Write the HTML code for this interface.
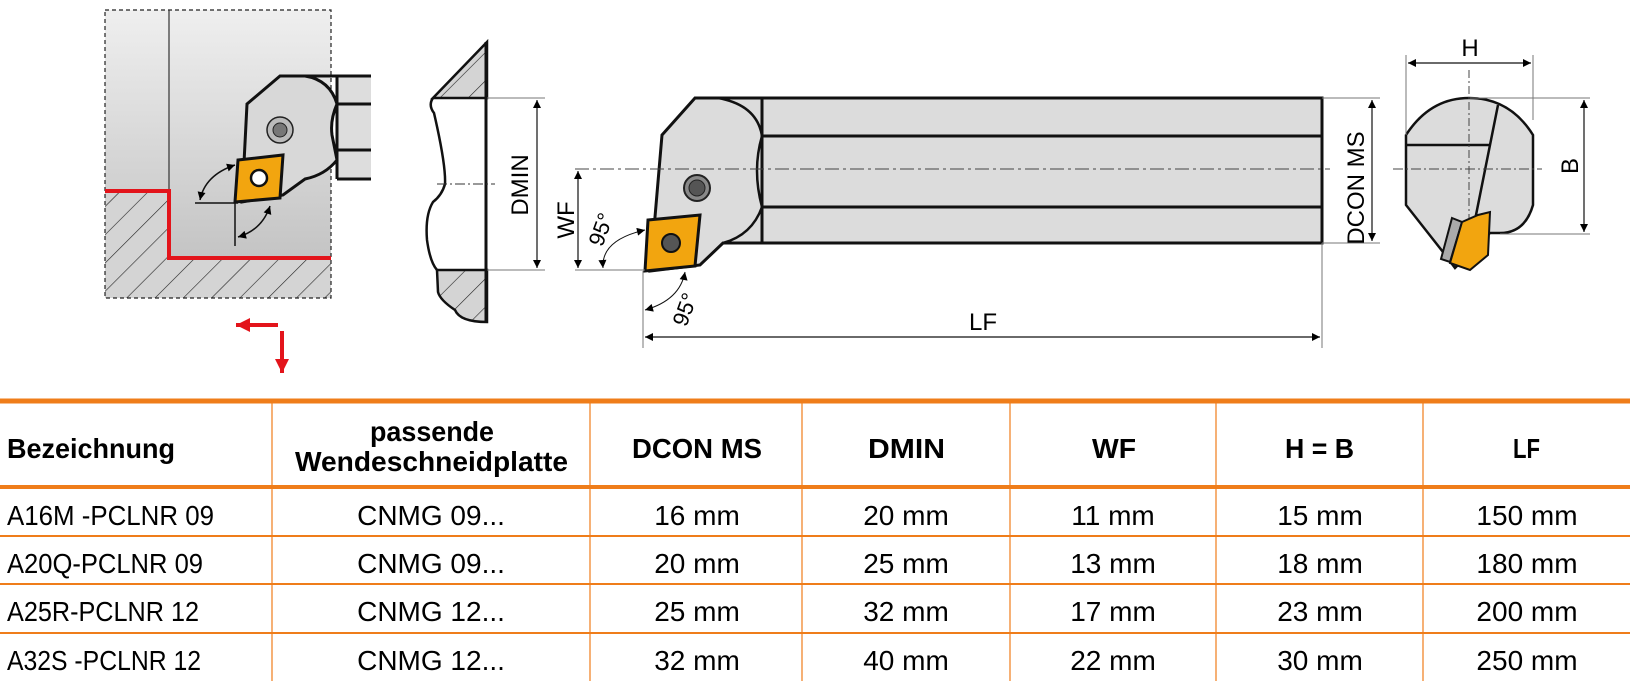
<!DOCTYPE html>
<html><head><meta charset="utf-8"><style>
html,body{margin:0;padding:0;background:#fff;}
svg{display:block;}
.t{font-family:"Liberation Sans Narrow","Liberation Sans",sans-serif;font-size:28px;fill:#000;}
.b{font-weight:bold;}
.d{font-family:"Liberation Sans",sans-serif;font-size:24px;fill:#000;}
</style></head><body>
<svg width="1630" height="697" viewBox="0 0 1630 697" xmlns="http://www.w3.org/2000/svg">
<defs>
<linearGradient id="g" x1="0" y1="0" x2="0" y2="1"><stop offset="0" stop-color="#efefef"/><stop offset="1" stop-color="#bdbdbd"/></linearGradient>
<pattern id="h" width="20" height="20" patternUnits="userSpaceOnUse" patternTransform="rotate(45)"><rect width="20" height="20" fill="#d4d4d4"/><line x1="0" y1="0" x2="0" y2="20" stroke="#222" stroke-width="1.2"/></pattern>
<marker id="a" viewBox="0 0 10 10" refX="10" refY="5" markerWidth="10" markerHeight="8" orient="auto-start-reverse" markerUnits="userSpaceOnUse"><path d="M0,0L10,5L0,10z" fill="#000"/></marker>
<marker id="ar" viewBox="0 0 10 10" refX="10" refY="5" markerWidth="16" markerHeight="14" orient="auto" markerUnits="userSpaceOnUse"><path d="M0,0L10,5L0,10z" fill="#e3141b"/></marker>
</defs>

<!-- left drawing -->
<rect x="105" y="10" width="226" height="288" fill="url(#g)"/>
<path d="M105,191H169V258H331V298H105Z" fill="url(#h)"/>
<rect x="105" y="10" width="226" height="288" fill="none" stroke="#222" stroke-width="1.2" stroke-dasharray="4,3"/>
<line x1="169" y1="10" x2="169" y2="191" stroke="#333" stroke-width="1.2"/>
<path d="M105,191H169V258H331" fill="none" stroke="#e3141b" stroke-width="4"/>
<rect x="337" y="76" width="34" height="103" fill="#ddd"/>
<path d="M242,202L247,104L280,76H305Q330,80 337,104Q330,120 332,135Q335,150 337,160Q325,175 305,179L283,195Z" fill="#d8d8d8" stroke="#111" stroke-width="3"/>
<path d="M280,76H371M337,104H371M337,150H371M337,179H371M337,76V179" stroke="#111" stroke-width="3" fill="none"/>
<circle cx="280" cy="130" r="13" fill="#bbb" stroke="#222" stroke-width="1.5"/><circle cx="280" cy="130" r="7" fill="#777" stroke="#222"/>
<path d="M238,160L283,155L280,198L235,202Z" fill="#f2a50f" stroke="#111" stroke-width="3"/>
<circle cx="259" cy="178" r="8" fill="#fff" stroke="#111" stroke-width="2.5"/>
<path d="M195,203H238M235,202V246" stroke="#111" stroke-width="1.5"/>
<path d="M200,200Q205,175 235,165" fill="none" stroke="#111" stroke-width="1.5" marker-start="url(#a)" marker-end="url(#a)"/>
<path d="M238,237Q262,230 270,206" fill="none" stroke="#111" stroke-width="1.5" marker-start="url(#a)" marker-end="url(#a)"/>
<line x1="278" y1="325" x2="236" y2="325" stroke="#e3141b" stroke-width="4" marker-end="url(#ar)"/>
<line x1="282" y1="331" x2="282" y2="373" stroke="#e3141b" stroke-width="4" marker-end="url(#ar)"/>

<!-- bore section -->
<path d="M433,98L487,42V98Z" fill="url(#h)" stroke="#111" stroke-width="2.5"/>
<path d="M437,270H487V322Q460,322 455,310Q440,300 438,292Z" fill="url(#h)" stroke="#111" stroke-width="2.5"/>
<path d="M433,98Q428,105 434,113Q446,165 445,184Q442,195 433,202Q425,215 427,240Q430,262 437,270" fill="none" stroke="#111" stroke-width="2.5"/>
<line x1="486" y1="42" x2="486" y2="322" stroke="#111" stroke-width="3"/>
<path d="M487,98H545M487,270H545" stroke="#777" stroke-width="1"/>
<line x1="537" y1="100" x2="537" y2="268" stroke="#111" stroke-width="1.2" marker-start="url(#a)" marker-end="url(#a)"/>
<line x1="437" y1="184" x2="495" y2="184" stroke="#333" stroke-width="1" stroke-dasharray="10,3,2,3"/>
<text class="d" transform="translate(528,185) rotate(-90)" text-anchor="middle">DMIN</text>

<!-- main tool -->
<path d="M695,98H1322V243H723L700,265L650,271L655,217L662,135Z" fill="#dcdcdc" stroke="#111" stroke-width="3"/>
<path d="M718,98Q757,105 762,136Q752,170 762,207Q752,235 723,243" fill="none" stroke="#111" stroke-width="2.5"/>
<path d="M762,98V243M762,136H1322M762,207H1322" stroke="#111" stroke-width="3"/>
<line x1="575" y1="169" x2="1330" y2="169" stroke="#444" stroke-width="1" stroke-dasharray="14,4,3,4"/>
<circle cx="697" cy="188" r="13" fill="#888" stroke="#222" stroke-width="2"/><circle cx="697" cy="188" r="8" fill="#555" stroke="#222"/>
<path d="M648,220L700,215L695,266L645,271Z" fill="#f2a50f" stroke="#111" stroke-width="3"/>
<circle cx="671" cy="243" r="9" fill="#555" stroke="#111" stroke-width="2"/>
<path d="M575,270H645M643,271V348M1322,243V348M1322,98H1380" stroke="#777" stroke-width="1"/>
<line x1="578" y1="171" x2="578" y2="268" stroke="#111" stroke-width="1.2" marker-start="url(#a)" marker-end="url(#a)"/>
<text class="d" transform="translate(574,220) rotate(-90)" text-anchor="middle">WF</text>
<path d="M603,268Q601,240 645,230" fill="none" stroke="#111" stroke-width="1" marker-start="url(#a)" marker-end="url(#a)"/>
<text class="d" transform="translate(608,232) rotate(-70)" text-anchor="middle" style="font-size:22px">95°</text>
<path d="M645,310Q680,300 685,272" fill="none" stroke="#111" stroke-width="1" marker-start="url(#a)" marker-end="url(#a)"/>
<text class="d" transform="translate(692,312) rotate(-70)" text-anchor="middle" style="font-size:22px">95°</text>
<line x1="645" y1="337" x2="1320" y2="337" stroke="#111" stroke-width="1.2" marker-start="url(#a)" marker-end="url(#a)"/>
<text class="d" x="983" y="330" text-anchor="middle">LF</text>
<line x1="1372" y1="100" x2="1372" y2="241" stroke="#111" stroke-width="1.2" marker-start="url(#a)" marker-end="url(#a)"/>
<path d="M1322,243H1380" stroke="#777" stroke-width="1"/>
<text class="d" transform="translate(1364,188) rotate(-90)" text-anchor="middle">DCON MS</text>

<!-- end view -->
<path d="M1406,135Q1430,98 1469,98Q1510,98 1533,135V205Q1525,233 1500,233H1490L1455,268L1443,252L1406,205Z" fill="#dcdcdc" stroke="#111" stroke-width="2.5"/>
<path d="M1406,145H1489M1498,105L1475,220" stroke="#111" stroke-width="2.5"/>
<line x1="1469" y1="70" x2="1469" y2="222" stroke="#444" stroke-width="1" stroke-dasharray="8,3,2,3"/>
<line x1="1393" y1="169" x2="1542" y2="169" stroke="#444" stroke-width="1" stroke-dasharray="10,3,2,3"/>
<path d="M1452,218L1462,222L1450,262L1441,259Z" fill="#aaa" stroke="#111" stroke-width="2"/>
<path d="M1462,222L1478,215L1490,212L1488,255L1470,270L1450,263Z" fill="#f2a50f" stroke="#111" stroke-width="2"/>
<path d="M1406,135V55M1533,120V55M1470,98H1590M1500,234H1590" stroke="#777" stroke-width="1"/>
<line x1="1408" y1="63" x2="1531" y2="63" stroke="#111" stroke-width="1.2" marker-start="url(#a)" marker-end="url(#a)"/>
<text class="d" x="1470" y="56" text-anchor="middle">H</text>
<line x1="1584" y1="100" x2="1584" y2="232" stroke="#111" stroke-width="1.2" marker-start="url(#a)" marker-end="url(#a)"/>
<text class="d" transform="translate(1578,166) rotate(-90)" text-anchor="middle">B</text>

<!-- table -->
<g stroke="#ef7d1a">
<line x1="0" y1="401" x2="1630" y2="401" stroke-width="5"/>
<line x1="0" y1="487" x2="1630" y2="487" stroke-width="4"/>
<line x1="0" y1="536" x2="1630" y2="536" stroke-width="2"/>
<line x1="0" y1="584" x2="1630" y2="584" stroke-width="2"/>
<line x1="0" y1="633" x2="1630" y2="633" stroke-width="2"/>
<path d="M272,403V681M590,403V681M802,403V681M1010,403V681M1216,403V681M1423,403V681" stroke-width="1.2"/>
</g>
<g class="t b">
<text x="7" y="458" textLength="168" lengthAdjust="spacingAndGlyphs">Bezeichnung</text>
<text x="370" y="441" textLength="124" lengthAdjust="spacingAndGlyphs">passende</text>
<text x="295" y="471" textLength="273" lengthAdjust="spacingAndGlyphs">Wendeschneidplatte</text>
<text x="632" y="458" textLength="130" lengthAdjust="spacingAndGlyphs">DCON MS</text>
<text x="868" y="458" textLength="77" lengthAdjust="spacingAndGlyphs">DMIN</text>
<text x="1092" y="458" textLength="44" lengthAdjust="spacingAndGlyphs">WF</text>
<text x="1285" y="458" textLength="69" lengthAdjust="spacingAndGlyphs">H = B</text>
<text x="1513" y="458" textLength="27" lengthAdjust="spacingAndGlyphs">LF</text>
</g>
<g class="t">
<text x="7" y="525" textLength="207" lengthAdjust="spacingAndGlyphs">A16M -PCLNR 09</text>
<text x="7" y="573" textLength="196" lengthAdjust="spacingAndGlyphs">A20Q-PCLNR 09</text>
<text x="7" y="621" textLength="192" lengthAdjust="spacingAndGlyphs">A25R-PCLNR 12</text>
<text x="7" y="670" textLength="194" lengthAdjust="spacingAndGlyphs">A32S -PCLNR 12</text>
</g>
<g class="t" text-anchor="middle">
<text x="431" y="525">CNMG 09...</text><text x="431" y="573">CNMG 09...</text><text x="431" y="621">CNMG 12...</text><text x="431" y="670">CNMG 12...</text>
<text x="697" y="525">16 mm</text><text x="697" y="573">20 mm</text><text x="697" y="621">25 mm</text><text x="697" y="670">32 mm</text>
<text x="906" y="525">20 mm</text><text x="906" y="573">25 mm</text><text x="906" y="621">32 mm</text><text x="906" y="670">40 mm</text>
<text x="1113" y="525">11 mm</text><text x="1113" y="573">13 mm</text><text x="1113" y="621">17 mm</text><text x="1113" y="670">22 mm</text>
<text x="1320" y="525">15 mm</text><text x="1320" y="573">18 mm</text><text x="1320" y="621">23 mm</text><text x="1320" y="670">30 mm</text>
<text x="1527" y="525">150 mm</text><text x="1527" y="573">180 mm</text><text x="1527" y="621">200 mm</text><text x="1527" y="670">250 mm</text>
</g>
</svg>
</body></html>
